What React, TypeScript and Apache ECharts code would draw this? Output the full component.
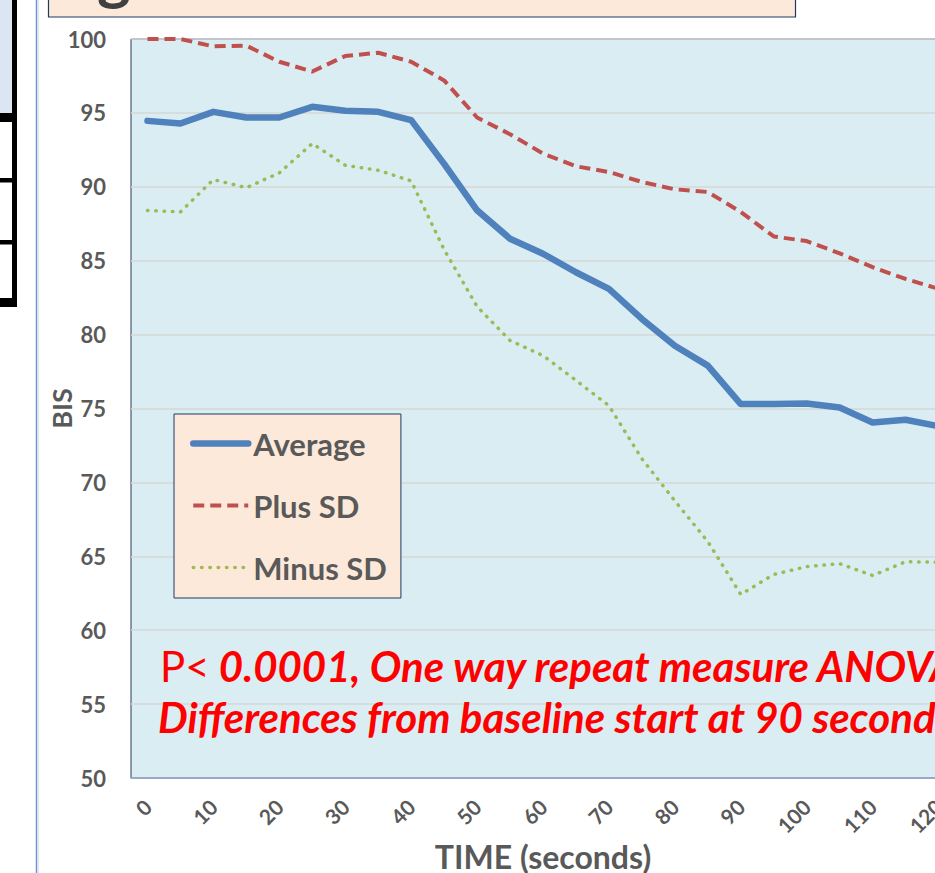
import React, { useEffect, useRef } from 'react';
import * as echarts from 'echarts';

const timeSeconds = ['0', '5', '10', '15', '20', '25', '30', '35', '40', '45', '50', '55', '60', '65', '70', '75', '80', '85', '90', '95', '100', '105', '110', '115', '120'];
const averageBIS = [94.46, 94.28, 95.07, 94.69, 94.69, 95.41, 95.14, 95.07, 94.51, 91.55, 88.41, 86.49, 85.47, 84.22, 83.1, 81.06, 79.25, 77.9, 75.3, 75.3, 75.34, 75.07, 74.05, 74.24, 73.8];
const plusSD = [100.0, 100.0, 99.5, 99.55, 98.46, 97.8, 98.85, 99.07, 98.46, 97.2, 94.69, 93.56, 92.25, 91.39, 91.0, 90.33, 89.83, 89.65, 88.3, 86.64, 86.33, 85.5, 84.56, 83.77, 83.1];
const minusSD = [88.4, 88.3, 90.49, 89.94, 90.94, 92.93, 91.46, 91.12, 90.4, 85.75, 81.9, 79.6, 78.58, 76.9, 75.19, 71.6, 68.75, 66.0, 62.42, 63.77, 64.3, 64.5, 63.7, 64.63, 64.6];
const yMin = 50;
const yMax = 100;
const yStep = 5;
const seriesNames = ['Average', 'Plus SD', 'Minus SD'];
const xAxisTitle = 'TIME (seconds)';
const yAxisTitle = 'BIS';
const noteP = 'P<';
const noteLine1 = ' 0.0001, One way repeat measure ANOVA';
const noteLine2 = 'Differences from baseline start at 90 seconds';

const FONT = 'Lato, "Open Sans", sans-serif';
const GRAY = '#595959';

export default function App() {
  const ref = useRef<HTMLDivElement>(null);
  useEffect(() => {
    const chart = echarts.init(ref.current!, null, { renderer: 'svg' });
    chart.setOption({
      animation: false,
      backgroundColor: '#ffffff',
      textStyle: { fontFamily: FONT },
      grid: {
        left: 131,
        top: 39,
        width: 824,
        height: 739,
        show: true,
        outerBoundsMode: 'none',
        containLabel: false,
        backgroundColor: '#daedf3',
        borderColor: '#1f3864',
        borderWidth: 1,
      },
      legend: {
        orient: 'vertical',
        left: 174,
        top: 414,
        data: seriesNames,
        icon: 'inherit',
        itemWidth: 55,
        itemHeight: 14,
        itemGap: 31,
        padding: [14, 14, 15, 16],
        backgroundColor: '#fde9d9',
        borderColor: '#1f3864',
        borderWidth: 1,
        itemStyle: { opacity: 0, borderWidth: 0 },
        lineStyle: { width: 'inherit', type: 'inherit' },
        textStyle: { fontFamily: FONT, fontSize: 31, fontWeight: 'bold', color: GRAY, lineHeight: 30 },
      },
      xAxis: {
        type: 'category',
        data: timeSeconds,
        boundaryGap: true,
        name: xAxisTitle,
        nameLocation: 'middle',
        nameGap: 62,
        nameMoveOverlap: false,
        nameTextStyle: { fontFamily: FONT, fontSize: 32, fontWeight: 'bold', color: GRAY },
        axisLine: { show: true, lineStyle: { color: '#8e9fc4', width: 1.5 } },
        axisTick: { show: false },
        axisLabel: {
          interval: 1,
          rotate: 45,
          margin: 25,
          fontFamily: FONT,
          fontSize: 21,
          fontWeight: 'bold',
          color: GRAY,
        },
        splitLine: { show: false },
      },
      yAxis: {
        type: 'value',
        min: yMin,
        max: yMax,
        interval: yStep,
        name: yAxisTitle,
        nameLocation: 'middle',
        nameGap: 56,
        nameMoveOverlap: false,
        nameTextStyle: { fontFamily: FONT, fontSize: 27, fontWeight: 'bold', color: GRAY },
        axisLine: { show: false },
        axisTick: { show: false },
        axisLabel: { margin: 25, fontFamily: FONT, fontSize: 22, fontWeight: 'bold', color: GRAY },
        splitLine: { show: true, lineStyle: { color: '#d6d6d6', width: 1.5 } },
      },
      series: [
        {
          name: seriesNames[0],
          type: 'line',
          data: averageBIS,
          symbol: 'none',
          z: 5,
          lineStyle: { color: '#4f81bd', width: 6.5, cap: 'round', join: 'round' },
          itemStyle: { color: '#4f81bd' },
        },
        {
          name: seriesNames[1],
          type: 'line',
          data: plusSD,
          symbol: 'none',
          z: 4,
          lineStyle: { color: '#c0504d', width: 4, type: [11, 6], join: 'round' },
          itemStyle: { color: '#c0504d' },
        },
        {
          name: seriesNames[2],
          type: 'line',
          data: minusSD,
          symbol: 'none',
          z: 3,
          lineStyle: { color: '#9bbb59', width: 3.5, type: [0.5, 7.8], cap: 'round', join: 'round' },
          itemStyle: { color: '#9bbb59' },
        },
      ],
      graphic: [
        // left table fragment
        { type: 'rect', z: 10, shape: { x: 0, y: 0, width: 13, height: 114 }, style: { fill: '#dce6f2' } },
        { type: 'rect', z: 11, shape: { x: 12, y: 0, width: 5, height: 307 }, style: { fill: '#000000' } },
        { type: 'rect', z: 11, shape: { x: 0, y: 113, width: 17, height: 9 }, style: { fill: '#000000' } },
        { type: 'rect', z: 11, shape: { x: 0, y: 178, width: 17, height: 4.5 }, style: { fill: '#000000' } },
        { type: 'rect', z: 11, shape: { x: 0, y: 240, width: 17, height: 4.5 }, style: { fill: '#000000' } },
        { type: 'rect', z: 11, shape: { x: 0, y: 298, width: 17, height: 9 }, style: { fill: '#000000' } },
        // chart frame edge
        { type: 'line', z: 10, shape: { x1: 36.5, y1: 0, x2: 36.5, y2: 873 }, style: { stroke: '#6f93d6', lineWidth: 1.5 } },
        { type: 'line', z: 10, shape: { x1: 38.5, y1: 0, x2: 38.5, y2: 873 }, style: { stroke: '#e4e4e4', lineWidth: 1 } },
        // title box fragment
        { type: 'rect', z: 10, shape: { x: 48.5, y: -20, width: 747, height: 37 }, style: { fill: '#fde9d9', stroke: '#1f3864', lineWidth: 1.2 } },
        { type: 'text', z: 12, x: 97, y: -27, style: { text: 'g', font: 'bold 64px Lato, sans-serif', fill: '#404040', verticalAlign: 'middle', align: 'left' } },
        // annotations
        {
          type: 'text', z: 20, left: 160, top: 645,
          style: {
            text: '{a|' + noteP + '}{b|' + noteLine1 + '}',
            rich: {
              a: { fontFamily: FONT, fontSize: 42, fill: '#ff0000' },
              b: { fontFamily: FONT, fontSize: 42, fontWeight: 'bold', fontStyle: 'italic', fill: '#ff0000' },
            },
          },
        },
        {
          type: 'text', z: 20, left: 158, top: 696,
          style: { text: noteLine2, font: 'italic bold 42px Lato, sans-serif', fill: '#ff0000' },
        },
      ],
    });
    return () => chart.dispose();
  }, []);
  return (
    <div style={{ position: 'fixed', left: 0, top: 0, width: 935, height: 873, overflow: 'hidden', background: '#ffffff' }}>
      <div ref={ref} style={{ width: 1000, height: 873 }} />
    </div>
  );
}
